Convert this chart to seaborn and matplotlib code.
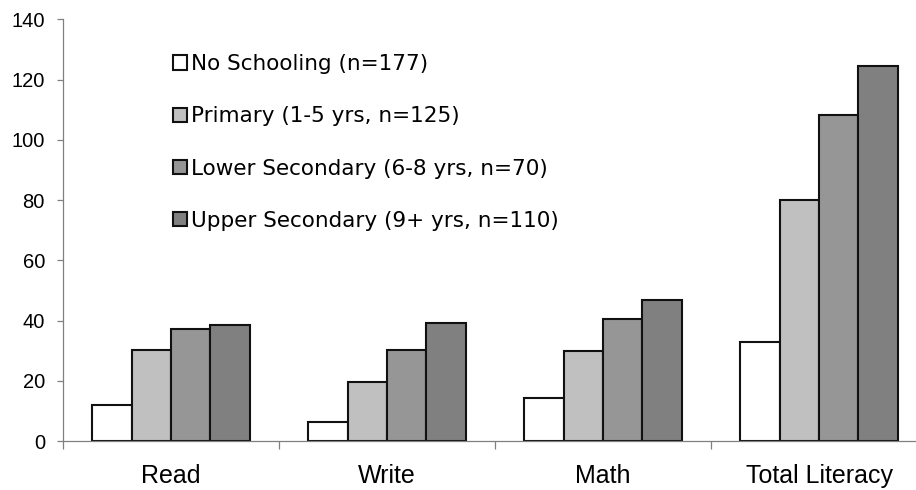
import numpy as np
import pandas as pd
import matplotlib
matplotlib.use("Agg")
import matplotlib.pyplot as plt
from matplotlib.ticker import FixedLocator, NullFormatter
import seaborn as sns

# literacy scores by schooling level, grouped bar chart

skills = ["Read", "Write", "Math", "Total Literacy"]
groups = ["No Schooling (n=177)", "Primary (1-5 yrs, n=125)",
          "Lower Secondary (6-8 yrs, n=70)", "Upper Secondary (9+ yrs, n=110)"]
no_school = [11.8, 6.4, 14.2, 32.8]
primary = [30.2, 19.7, 30.0, 80.0]
lower_sec = [37.3, 30.3, 40.6, 108.3]
upper_sec = [38.4, 39.3, 46.7, 124.6]
bar_colors = ["#ffffff", "#c0c0c0", "#969696", "#808080"]
y_ticks = [0, 20, 40, 60, 80, 100, 120, 140]

rows = []
for g, vals in zip(groups, [no_school, primary, lower_sec, upper_sec]):
    for s, v in zip(skills, vals):
        rows.append({"skill": s, "group": g, "value": v})
df = pd.DataFrame(rows)

sns.set_theme(style="white")
plt.rcParams["font.family"] = ["Liberation Sans", "DejaVu Sans"]
plt.rcParams["text.color"] = "black"

fig = plt.figure(figsize=(9.16, 4.9), dpi=100)
ax = fig.add_axes([63 / 916, 1 - 441 / 490, 864 / 916, 421.5 / 490])

sns.barplot(data=df, x="skill", y="value", hue="group", order=skills,
            hue_order=groups, palette=bar_colors, width=0.727,
            edgecolor="#111111", linewidth=1.5, saturation=1, ax=ax)

ax.set_ylim(0, 140)
ax.set_xlim(-0.5, 3.5)
ax.set_yticks(y_ticks)
ax.set_xlabel("")
ax.set_ylabel("")

# category separators as major ticks, labels on minor ticks at centres
ax.xaxis.set_major_locator(FixedLocator([-0.5, 0.5, 1.5, 2.5, 3.5]))
ax.xaxis.set_major_formatter(NullFormatter())
ax.xaxis.set_minor_locator(FixedLocator([0, 1, 2, 3]))
ax.set_xticklabels(skills, minor=True)
ax.tick_params(axis="x", which="major", direction="out", length=5.5,
               width=0.9, color="#808080", bottom=True)
ax.tick_params(axis="x", which="minor", length=0, pad=16.5, labelsize=18,
               bottom=True, labelcolor="black")
ax.tick_params(axis="y", direction="out", length=4.5, width=0.9,
               color="#808080", left=True, labelsize=14.5, pad=8.5,
               labelcolor="black")

for side in ["top", "right"]:
    ax.spines[side].set_visible(False)
for side in ["left", "bottom"]:
    ax.spines[side].set_color("#808080")
    ax.spines[side].set_linewidth(0.9)

handles, labels = ax.get_legend_handles_labels()
ax.get_legend().remove()
leg = fig.legend(handles, labels, loc="upper left",
                 bbox_to_anchor=(173 / 916, 1 - 54 / 490), frameon=False,
                 prop={"family": "DejaVu Sans", "size": 15.5},
                 handlelength=0.65, handleheight=0.65, handletextpad=0.2,
                 labelspacing=1.5, borderpad=0, borderaxespad=0)
for t in leg.get_texts():
    t.set_color("black")

fig.savefig("out.png", dpi=100)
